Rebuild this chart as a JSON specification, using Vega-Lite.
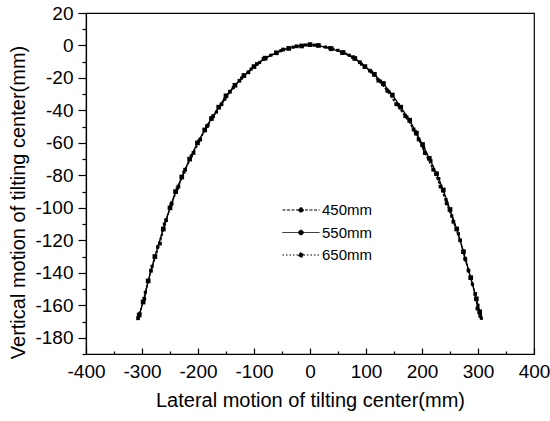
{
  "$schema": "https://vega.github.io/schema/vega-lite/v6.json",
  "width": 448,
  "height": 341,
  "autosize": {"type": "none"},
  "padding": {"left": 86, "top": 13, "right": 16, "bottom": 67},
  "background": "white",
  "config": {
    "font": "Liberation Sans",
    "view": {"stroke": "black", "strokeWidth": 1.2},
    "axis": {"labelFont": "Liberation Sans", "titleFont": "Liberation Sans", "labelColor": "black", "titleColor": "black", "tickColor": "black", "domainColor": "black", "grid": false, "titleFontWeight": "normal"}
  },
  "data": {"values": [
    {"series": "450mm", "x": -307, "y": -168}, {"series": "450mm", "x": -296, "y": -156}, {"series": "450mm", "x": -284, "y": -138.7}, {"series": "450mm", "x": -268, "y": -122}, {"series": "450mm", "x": -257, "y": -107.6}, {"series": "450mm", "x": -247, "y": -97.2}, {"series": "450mm", "x": -235, "y": -86.9}, {"series": "450mm", "x": -223, "y": -76.5}, {"series": "450mm", "x": -208, "y": -66.2}, {"series": "450mm", "x": -196, "y": -57.9}, {"series": "450mm", "x": -184, "y": -49.7}, {"series": "450mm", "x": -173, "y": -43.5}, {"series": "450mm", "x": -158, "y": -36.2}, {"series": "450mm", "x": -143, "y": -28.5}, {"series": "450mm", "x": -126, "y": -21.7}, {"series": "450mm", "x": -110, "y": -16.5}, {"series": "450mm", "x": -95, "y": -11.4}, {"series": "450mm", "x": -83, "y": -8.3}, {"series": "450mm", "x": -48, "y": -2.5}, {"series": "450mm", "x": -24, "y": -0.5}, {"series": "450mm", "x": 0, "y": 0.5}, {"series": "450mm", "x": 36, "y": -1.5}, {"series": "450mm", "x": 60, "y": -4.1}, {"series": "450mm", "x": 77, "y": -7.2}, {"series": "450mm", "x": 89, "y": -10.3}, {"series": "450mm", "x": 107, "y": -15.5}, {"series": "450mm", "x": 122, "y": -21.7}, {"series": "450mm", "x": 138, "y": -27.9}, {"series": "450mm", "x": 154, "y": -36.2}, {"series": "450mm", "x": 170, "y": -43.5}, {"series": "450mm", "x": 185, "y": -51.7}, {"series": "450mm", "x": 194, "y": -57.9}, {"series": "450mm", "x": 205, "y": -66.2}, {"series": "450mm", "x": 220, "y": -76.5}, {"series": "450mm", "x": 233, "y": -86.9}, {"series": "450mm", "x": 244, "y": -97.2}, {"series": "450mm", "x": 256, "y": -108.6}, {"series": "450mm", "x": 268, "y": -120}, {"series": "450mm", "x": 277, "y": -131.3}, {"series": "450mm", "x": 283, "y": -138.6}, {"series": "450mm", "x": 295, "y": -153}, {"series": "450mm", "x": 299, "y": -162}, {"series": "450mm", "x": 304, "y": -166.5},
    {"series": "550mm", "x": -305, "y": -166}, {"series": "550mm", "x": -298, "y": -158}, {"series": "550mm", "x": -289, "y": -145}, {"series": "550mm", "x": -277, "y": -130}, {"series": "550mm", "x": -262, "y": -113}, {"series": "550mm", "x": -250, "y": -100}, {"series": "550mm", "x": -240, "y": -90}, {"series": "550mm", "x": -229, "y": -81}, {"series": "550mm", "x": -215, "y": -70}, {"series": "550mm", "x": -201, "y": -60}, {"series": "550mm", "x": -188, "y": -52}, {"series": "550mm", "x": -176, "y": -45}, {"series": "550mm", "x": -163, "y": -38}, {"series": "550mm", "x": -150, "y": -31}, {"series": "550mm", "x": -134, "y": -24.5}, {"series": "550mm", "x": -118, "y": -18.5}, {"series": "550mm", "x": -100, "y": -13}, {"series": "550mm", "x": -80, "y": -7.8}, {"series": "550mm", "x": -60, "y": -4.5}, {"series": "550mm", "x": -38, "y": -1.8}, {"series": "550mm", "x": -15, "y": -0.3}, {"series": "550mm", "x": 0, "y": 0.5}, {"series": "550mm", "x": 15, "y": 0}, {"series": "550mm", "x": 38, "y": -2}, {"series": "550mm", "x": 58, "y": -4.4}, {"series": "550mm", "x": 80, "y": -8}, {"series": "550mm", "x": 98, "y": -13}, {"series": "550mm", "x": 115, "y": -17.8}, {"series": "550mm", "x": 131, "y": -23.4}, {"series": "550mm", "x": 147, "y": -30.5}, {"series": "550mm", "x": 162, "y": -38}, {"series": "550mm", "x": 178, "y": -46}, {"series": "550mm", "x": 190, "y": -54}, {"series": "550mm", "x": 201, "y": -61}, {"series": "550mm", "x": 213, "y": -69.5}, {"series": "550mm", "x": 226, "y": -79}, {"series": "550mm", "x": 238, "y": -89}, {"series": "550mm", "x": 250, "y": -101}, {"series": "550mm", "x": 262, "y": -113}, {"series": "550mm", "x": 274, "y": -127}, {"series": "550mm", "x": 287, "y": -143}, {"series": "550mm", "x": 297, "y": -156}, {"series": "550mm", "x": 303, "y": -164},
    {"series": "650mm", "x": -304, "y": -165}, {"series": "650mm", "x": -294, "y": -152}, {"series": "650mm", "x": -282, "y": -136}, {"series": "650mm", "x": -272, "y": -124}, {"series": "650mm", "x": -260, "y": -110}, {"series": "650mm", "x": -248, "y": -98}, {"series": "650mm", "x": -237, "y": -88}, {"series": "650mm", "x": -225, "y": -78}, {"series": "650mm", "x": -212, "y": -68}, {"series": "650mm", "x": -199, "y": -59}, {"series": "650mm", "x": -182, "y": -49}, {"series": "650mm", "x": -167, "y": -41}, {"series": "650mm", "x": -152, "y": -33}, {"series": "650mm", "x": -137, "y": -26}, {"series": "650mm", "x": -122, "y": -20}, {"series": "650mm", "x": -105, "y": -14.5}, {"series": "650mm", "x": -90, "y": -10.5}, {"series": "650mm", "x": -70, "y": -6}, {"series": "650mm", "x": -52, "y": -3.2}, {"series": "650mm", "x": -30, "y": -1}, {"series": "650mm", "x": -8, "y": 0.3}, {"series": "650mm", "x": 8, "y": 0.2}, {"series": "650mm", "x": 28, "y": -1}, {"series": "650mm", "x": 50, "y": -3}, {"series": "650mm", "x": 70, "y": -6}, {"series": "650mm", "x": 92, "y": -11.5}, {"series": "650mm", "x": 110, "y": -16.3}, {"series": "650mm", "x": 126, "y": -22}, {"series": "650mm", "x": 141, "y": -28.5}, {"series": "650mm", "x": 158, "y": -36.5}, {"series": "650mm", "x": 173, "y": -44}, {"series": "650mm", "x": 188, "y": -53}, {"series": "650mm", "x": 203, "y": -63}, {"series": "650mm", "x": 216, "y": -71}, {"series": "650mm", "x": 230, "y": -82}, {"series": "650mm", "x": 243, "y": -95}, {"series": "650mm", "x": 253, "y": -105}, {"series": "650mm", "x": 265, "y": -116}, {"series": "650mm", "x": 278, "y": -132}, {"series": "650mm", "x": 290, "y": -147}, {"series": "650mm", "x": 300, "y": -160}, {"series": "650mm", "x": 306, "y": -168}
  ]},
  "layer": [
    {
      "mark": {"type": "line", "color": "black", "strokeWidth": 1.3},
      "encoding": {
        "x": {"field": "x", "type": "quantitative", "scale": {"domain": [-400, 400], "nice": false},
              "axis": {"orient": "bottom", "values": [-400, -300, -200, -100, 0, 100, 200, 300, 400], "labelExpr": "'' + datum.value", "title": "Lateral motion of tilting center(mm)", "titleFontSize": 20, "titlePadding": 9, "labelFontSize": 19, "tickSize": -6, "labelPadding": 14, "domainWidth": 1.2, "tickWidth": 1.2, "labelFlush": false}},
        "y": {"field": "y", "type": "quantitative", "scale": {"domain": [-190, 20], "nice": false, "zero": false},
              "axis": {"orient": "left", "values": [20, 0, -20, -40, -60, -80, -100, -120, -140, -160, -180], "labelExpr": "'' + datum.value", "title": "Vertical motion of tilting center(mm)", "titleFontSize": 20, "titlePadding": 6, "titleY": 189, "labelFontSize": 19, "tickSize": 8, "labelPadding": 5, "domainWidth": 1.2, "tickWidth": 1.2, "labelFlush": false}},
        "detail": {"field": "series"},
        "strokeDash": {"field": "series", "type": "nominal",
          "scale": {"domain": ["450mm", "550mm", "650mm"], "range": [[3, 1.5], [1, 0], [1.5, 2]]},
          "legend": {"title": null, "orient": "none", "legendX": 205, "legendY": 187, "labelFontSize": 15, "labelColor": "black", "labelFont": "Liberation Sans",
            "symbolType": "M-2,0H2M-0.25,0A0.25,0.25,0,1,0,0.25,0A0.25,0.25,0,1,0,-0.25,0Z",
            "symbolSize": 342, "symbolStrokeColor": "black", "symbolFillColor": "black", "symbolStrokeWidth": 1, "rowPadding": 4.5, "labelOffset": 11}}
      }
    },
    {
      "transform": [{"filter": "datum.series === '450mm'"}],
      "mark": {"type": "square", "color": "black", "opacity": 1, "size": 14},
      "encoding": {
        "x": {"field": "x", "type": "quantitative", "axis": null},
        "y": {"field": "y", "type": "quantitative", "axis": null}
      }
    },
    {
      "transform": [{"filter": "datum.series === '550mm'"}],
      "mark": {"type": "square", "color": "black", "opacity": 1, "size": 22},
      "encoding": {
        "x": {"field": "x", "type": "quantitative", "axis": null},
        "y": {"field": "y", "type": "quantitative", "axis": null}
      }
    },
    {
      "transform": [{"filter": "datum.series === '650mm'"}],
      "mark": {"type": "square", "color": "black", "opacity": 1, "size": 10},
      "encoding": {
        "x": {"field": "x", "type": "quantitative", "axis": null},
        "y": {"field": "y", "type": "quantitative", "axis": null}
      }
    },
    {
      "mark": {"type": "point", "opacity": 0},
      "encoding": {
        "x": {"field": "x", "type": "quantitative",
              "axis": {"orient": "bottom", "values": [-350, -250, -150, -50, 50, 150, 250, 350], "labels": false, "domain": false, "title": null, "tickSize": -3, "tickWidth": 1.2}},
        "y": {"field": "y", "type": "quantitative",
              "axis": {"orient": "left", "values": [10, -10, -30, -50, -70, -90, -110, -130, -150, -170, -190], "labels": false, "domain": false, "title": null, "tickSize": 4, "tickWidth": 1.2}}
      }
    }
  ],
  "resolve": {"axis": {"x": "independent", "y": "independent"}}
}
